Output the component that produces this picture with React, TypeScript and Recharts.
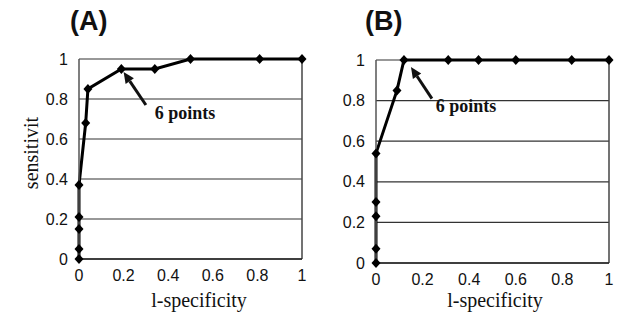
import {
  CartesianGrid,
  Line,
  LineChart,
  ReferenceDot,
  ReferenceLine,
  XAxis,
  YAxis,
} from 'recharts';

// ROC curves, two panels (A) and (B)
const X_TICKS = [0, 0.2, 0.4, 0.6, 0.8, 1];
const Y_TICKS = [0, 0.2, 0.4, 0.6, 0.8, 1];

const A_FPR = [0, 0, 0, 0, 0, 0.03, 0.04, 0.19, 0.34, 0.5, 0.81, 1];
const A_TPR = [0, 0.05, 0.15, 0.21, 0.37, 0.68, 0.85, 0.95, 0.95, 1, 1, 1];
const B_FPR = [0, 0, 0, 0, 0, 0.09, 0.12, 0.31, 0.44, 0.6, 0.84, 1];
const B_TPR = [0, 0.07, 0.23, 0.3, 0.54, 0.85, 1, 1, 1, 1, 1, 1];

// annotation: arrow tail -> head and text centre, in data units
const NOTE_TEXT = '6 points';
const A_ARROW = [{ x: 0.3, y: 0.77 }, { x: 0.2, y: 0.935 }];
const A_NOTE = { x: 0.475, y: 0.73 };
const B_ARROW = [{ x: 0.24, y: 0.81 }, { x: 0.15, y: 0.965 }];
const B_NOTE = { x: 0.386, y: 0.773 };

const SANS = '"Liberation Sans", Arial, sans-serif';
const SERIF = '"Liberation Serif", "Times New Roman", serif';
const GRID = '#333';

const toRows = (xs: number[], ys: number[]) => xs.map((x, i) => ({ x, y: ys[i] }));

const Diamond = (p: any) => {
  const { cx, cy, index } = p;
  if (cx == null || cy == null) return <g key={index} />;
  return (
    <polygon
      key={index}
      points={`${cx},${cy - 5} ${cx + 4.5},${cy} ${cx},${cy + 5} ${cx - 4.5},${cy}`}
      fill="#000"
    />
  );
};

const Arrow = (p: any) => {
  const { x1, y1, x2, y2 } = p;
  const a = Math.atan2(y2 - y1, x2 - x1);
  const len = 11;
  const w = 5;
  const bx = x2 - len * Math.cos(a);
  const by = y2 - len * Math.sin(a);
  const nx = -Math.sin(a) * w;
  const ny = Math.cos(a) * w;
  return (
    <g>
      <line x1={x1} y1={y1} x2={bx} y2={by} stroke="#111" strokeWidth={3} />
      <polygon points={`${x2},${y2} ${bx + nx},${by + ny} ${bx - nx},${by - ny}`} fill="#111" />
    </g>
  );
};

type PanelProps = {
  rows: { x: number; y: number }[];
  arrow: { x: number; y: number }[];
  note: { x: number; y: number };
  width: number;
  margin: { top: number; right: number; bottom: number; left: number };
  yAxisWidth: number;
  xAxisHeight: number;
  yTitle?: string;
  xTitleX: number;
};

function Panel({ rows, arrow, note, width, margin, yAxisWidth, xAxisHeight, yTitle, xTitleX }: PanelProps) {
  return (
    <LineChart width={width} height={320} data={rows} margin={margin}>
      <CartesianGrid vertical={false} stroke={GRID} strokeWidth={1.2} />
      <XAxis
        type="number"
        dataKey="x"
        domain={[0, 1]}
        ticks={X_TICKS}
        height={xAxisHeight}
        tickLine={false}
        tickSize={6}
        tickMargin={5}
        axisLine={{ stroke: '#222', strokeWidth: 1.5 }}
        tick={{ fill: '#111', fontSize: 16, fontFamily: SANS }}
        label={{
          content: () => (
            <text x={xTitleX} y={307} textAnchor="middle" fontFamily={SERIF} fontSize={20} fill="#111">
              l-specificity
            </text>
          ),
        }}
      />
      <YAxis
        type="number"
        domain={[0, 1]}
        ticks={Y_TICKS}
        width={yAxisWidth}
        tickLine={false}
        tickSize={6}
        tickMargin={5}
        axisLine={{ stroke: '#555', strokeWidth: 1.5 }}
        tick={{ fill: '#111', fontSize: 16, fontFamily: SANS }}
        label={
          yTitle
            ? {
                content: () => (
                  <text
                    x={38}
                    y={153}
                    transform="rotate(-90 38 153)"
                    textAnchor="middle"
                    fontFamily={SERIF}
                    fontSize={20}
                    fill="#111"
                  >
                    {yTitle}
                  </text>
                ),
              }
            : undefined
        }
      />
      <ReferenceLine x={1} stroke="#444" strokeWidth={1.5} />
      <Line
        type="linear"
        dataKey="y"
        stroke="#000"
        strokeWidth={3}
        dot={Diamond}
        activeDot={false}
        isAnimationActive={false}
      />
      <ReferenceLine segment={arrow} shape={Arrow} />
      <ReferenceDot
        x={note.x}
        y={note.y}
        r={0}
        fill="none"
        stroke="none"
        label={{
          value: NOTE_TEXT,
          position: 'center',
          fontFamily: SERIF,
          fontWeight: 'bold',
          fontSize: 18,
          fill: '#111',
        }}
      />
    </LineChart>
  );
}

const titleStyle = {
  position: 'absolute' as const,
  top: 5,
  fontFamily: SANS,
  fontWeight: 'bold' as const,
  fontSize: 27,
  color: '#111',
  lineHeight: '32px',
};

export default function App() {
  return (
    <div style={{ position: 'fixed', left: 0, top: 0, width: 619, height: 320, background: '#fff' }}>
      <div style={{ ...titleStyle, left: 70 }}>(A)</div>
      <div style={{ ...titleStyle, left: 365 }}>(B)</div>
      <div style={{ position: 'absolute', left: 0, top: 0 }}>
        <Panel
          rows={toRows(A_FPR, A_TPR)}
          arrow={A_ARROW}
          note={A_NOTE}
          width={310}
          margin={{ top: 59, right: 8, bottom: 0, left: 0 }}
          yAxisWidth={79}
          xAxisHeight={61}
          yTitle="sensitivit"
          xTitleX={199}
        />
      </div>
      <div style={{ position: 'absolute', left: 310, top: 0 }}>
        <Panel
          rows={toRows(B_FPR, B_TPR)}
          arrow={B_ARROW}
          note={B_NOTE}
          width={309}
          margin={{ top: 60, right: 10, bottom: 0, left: 0 }}
          yAxisWidth={66}
          xAxisHeight={57}
          xTitleX={185}
        />
      </div>
    </div>
  );
}
